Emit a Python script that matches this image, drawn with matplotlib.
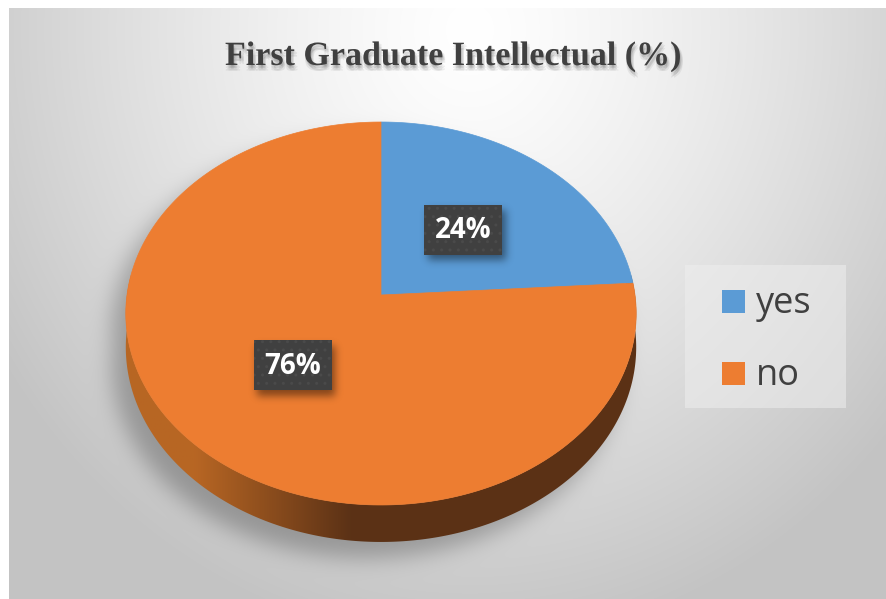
import numpy as np
import matplotlib
matplotlib.use("Agg")
import matplotlib.pyplot as plt
from matplotlib.patches import Polygon, Rectangle
from matplotlib.path import Path
import matplotlib.patheffects as pe

# data
labels = ['yes', 'no']
values = [24, 76]
colors = ['#5B9BD5', '#ED7D31']
title = 'First Graduate Intellectual (%)'

W, H = 886, 599
cx, cy = 381, 295      # pie centre on screen (px)
a, b, k = 254, 189.7, 0.0966   # half width, half depth, perspective
thick = 33.4


def proj(theta, r=1.0, drop=0.0):
    u = r * np.cos(theta)
    v = r * np.sin(theta)
    w = 1 + k * v
    return cx + a * u / w, cy - b * v / w + drop / w


def blur(arr, sigma):
    n = int(3 * sigma)
    g = np.exp(-np.arange(-n, n + 1) ** 2 / (2 * sigma ** 2))
    g /= g.sum()
    arr = np.apply_along_axis(lambda s: np.convolve(s, g, mode='same'), 1, arr)
    return np.apply_along_axis(lambda s: np.convolve(s, g, mode='same'), 0, arr)


fig = plt.figure(figsize=(W / 100, H / 100), dpi=100)
ax = fig.add_axes([0, 0, 1, 1])
ax.set_xlim(0, W)
ax.set_ylim(H, 0)
ax.axis('off')

# background: radial grey gradient + soft pie shadow
X, Y = np.meshgrid(np.arange(W) + 0.5, np.arange(H) + 0.5)
r = np.sqrt(((X - 470) / 560) ** 2 + ((Y - 30) / 620) ** 2)
bg = 255 - 60 * np.clip(r, 0, 1) ** 1.3

t = np.linspace(0, 2 * np.pi, 400)
tx, ty = proj(t)
bx, by = proj(t, drop=thick)
pts = np.c_[X.ravel(), Y.ravel()]
m1 = Path(np.c_[tx - 14, ty + 16]).contains_points(pts)
m2 = Path(np.c_[bx - 14, by + 16]).contains_points(pts)
mask = blur((m1 | m2).reshape(H, W).astype(float), 11.0)
bg = bg - 55 * mask
bg[:8, :] = 255
bg[:, :9] = 255
img = np.dstack([bg, bg, bg]).clip(0, 255) / 255
ax.imshow(img, extent=(0, W, H, 0), zorder=0, interpolation='bilinear')

# side of the pie with horizontal shading
ts = np.linspace(np.pi * 0.95, np.pi * 2.06, 300)
sx, sy = proj(ts)
sbx, sby = proj(ts[::-1], drop=thick)
side = Polygon(np.c_[np.r_[sx, sbx], np.r_[sy, sby]], closed=True,
               facecolor='none', edgecolor='none', zorder=1)
ax.add_patch(side)
xs = np.linspace(0, 1, 300)
shade = np.clip((xs - 0.14) / 0.3, 0, 1)
light = np.array([0.72, 0.40, 0.14])
dark = np.array([0.36, 0.196, 0.086])
row = light[None, :] * (1 - shade[:, None]) + dark[None, :] * shade[:, None]
grad = np.repeat(row[None, :, :], 10, axis=0)
im = ax.imshow(grad, extent=(cx - a - 5, cx + a + 5, cy + b + 60, cy - 20),
               zorder=1, aspect='auto')
im.set_clip_path(side)

# top face wedges, clockwise from 12 o'clock
start = np.pi / 2
total = sum(values)
mids = []
for val, col in zip(values, colors):
    span = 2 * np.pi * val / total
    tt = np.linspace(start, start - span, 300)
    wx, wy = proj(tt)
    ax.add_patch(Polygon(np.c_[np.r_[cx, wx], np.r_[cy, wy]], closed=True,
                         facecolor=col, edgecolor=col, lw=0.5, zorder=2))
    mids.append(start - span / 2)
    start -= span

# soft shadows under the label boxes (alpha layer)
bw, bh = 78, 50
centres = [proj(mid, r=0.49) for mid in mids]
smask = np.zeros((H, W))
for lx, ly in centres:
    x0, y0 = int(lx - bw / 2 + 4), int(ly - bh / 2 + 6)
    smask[y0:y0 + bh, x0:x0 + bw] = 1
smask = blur(smask, 4.0)
shadow = np.zeros((H, W, 4))
shadow[..., 3] = 0.45 * smask
ax.imshow(shadow, extent=(0, W, H, 0), zorder=3, interpolation='bilinear')

# data labels in dark boxes
for val, (lx, ly) in zip(values, centres):
    ax.add_patch(Rectangle((lx - bw / 2, ly - bh / 2), bw, bh,
                           facecolor='#404040', edgecolor='#4a4a4a',
                           hatch='..', lw=0, zorder=4))
    ax.text(lx, ly + 1, f'{val}%', ha='center', va='center', color='white',
            fontsize=20, fontweight='bold', family='Open Sans', zorder=5)

# legend
ax.add_patch(Rectangle((685, 265), 161, 143, facecolor='#eeeeee',
                       alpha=0.55, lw=0, zorder=2))
for i, (lab, col) in enumerate(zip(labels, colors)):
    base = 312.5 + i * 72.5
    ax.add_patch(Rectangle((722, base - 23), 23, 23, facecolor=col,
                           lw=0, zorder=3))
    ax.text(756, base, lab, ha='left', va='baseline', color='#404040',
            fontsize=26, family='Open Sans', zorder=3)

# title with soft shadow
soft = [pe.SimplePatchShadow(offset=(dx, dy), shadow_rgbFace='#000000',
                             alpha=0.06)
        for dx, dy in [(0, -2), (2, -2), (1, -3), (1, -1), (2, -4), (0, -4)]]
ax.text(453, 65, title, ha='center', va='baseline', color='#404040',
        fontsize=24.5, fontweight='bold', family='Liberation Serif', zorder=3,
        path_effects=soft + [pe.Normal()])

fig.savefig('out.png', dpi=100)
